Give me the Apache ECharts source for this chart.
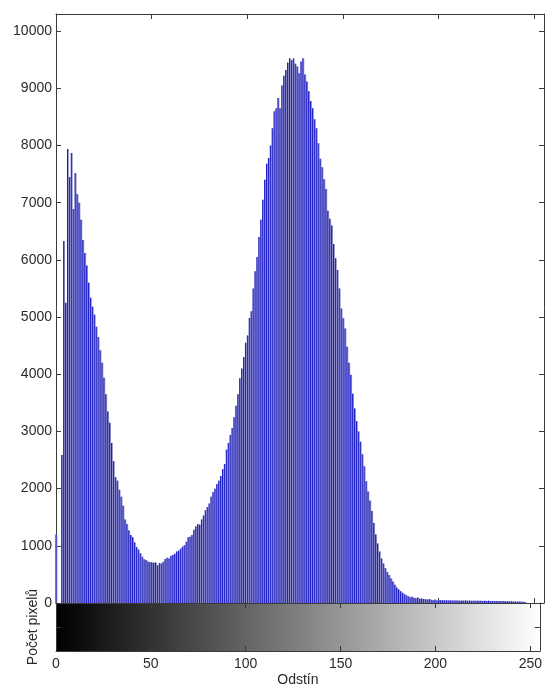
<!DOCTYPE html>
<html>
<head>
<meta charset="utf-8">
<script src="https://cdn.jsdelivr.net/npm/echarts@6/dist/echarts.min.js"></script>
<style>
  html, body { margin: 0; padding: 0; background: #ffffff; }
  #chart { width: 545px; height: 688px; }
</style>
</head>
<body>
<div id="chart"></div>
<script>
// Pixel counts per grey level 0..255
const counts = [
  1200, 0, 0, 2590, 6330, 5250, 7940, 7450, 7870, 6890,
  7520, 7150, 7000, 6700, 6350, 6120, 5900, 5600, 5340, 5180,
  5040, 4830, 4650, 4420, 4200, 3940, 3650, 3350, 3150, 2800,
  2480, 2200, 2140, 1980, 1860, 1700, 1460, 1380, 1270, 1190,
  1150, 1060, 980, 935, 870, 810, 765, 750, 725, 712,
  712, 702, 708, 660, 700, 690, 720, 770, 790, 780,
  825, 840, 860, 900, 915, 950, 985, 1010, 1070, 1150,
  1160, 1190, 1280, 1340, 1380, 1370, 1460, 1530, 1620, 1680,
  1740, 1860, 1940, 2000, 2080, 2140, 2220, 2340, 2430, 2680,
  2800, 2940, 3060, 3250, 3450, 3650, 3930, 4100, 4300, 4550,
  4680, 4985, 5100, 5500, 5800, 6050, 6400, 6700, 7050, 7400,
  7680, 7780, 8000, 8300, 8600, 8650, 8830, 8650, 9050, 9220,
  9320, 9450, 9525, 9490, 9520, 9430, 9380, 9265, 9470, 9525,
  9240, 9120, 8950, 8780, 8650, 8460, 8300, 8040, 7770, 7620,
  7410, 7240, 6860, 6720, 6600, 6280, 6030, 5825, 5500, 5150,
  4980, 4800, 4480, 4200, 3990, 3660, 3400, 3180, 3000, 2820,
  2600, 2390, 2130, 1950, 1790, 1610, 1400, 1200, 1040, 900,
  780, 690, 610, 540, 490, 430, 375, 320, 270, 235,
  205, 180, 155, 135, 120, 100, 110, 90, 85, 95,
  75, 80, 70, 65, 60, 70, 55, 50, 60, 45,
  52, 48, 50, 45, 48, 44, 46, 42, 45, 43,
  44, 40, 43, 41, 44, 40, 42, 38, 41, 39,
  40, 38, 41, 37, 39, 36, 38, 35, 37, 34,
  36, 33, 35, 31, 33, 30, 32, 28, 30, 26,
  28, 24, 26, 22, 20, 18, 0, 0, 0, 0,
  0, 0, 0, 0, 0, 0
];

const xTicks = [0, 50, 100, 150, 200, 250];
const yTicks = [0, 1000, 2000, 3000, 4000, 5000, 6000, 7000, 8000, 9000, 10000];
const xName = 'Odstín';
const yName = 'Počet pixelů';

const X_MAX = 255;
const Y_MAX = 10300;

const FONT = 'Liberation Sans, Arial, Helvetica, sans-serif';
const INK = '#2a2a2a';
const LINE = '#3a3a3a';

const histData = counts.map((c, i) => [i, c]);

const boxLine = { show: true, onZero: false, lineStyle: { color: LINE, width: 1 } };
const inTick = { show: true, inside: true, length: 5, lineStyle: { color: LINE, width: 1 } };

function xAx(gridIndex, position, withLabels) {
  return {
    type: 'value', gridIndex, position,
    min: 0, max: X_MAX, interval: xTicks[1] - xTicks[0],
    axisLine: boxLine, axisTick: inTick, splitLine: { show: false },
    axisLabel: withLabels ? {
      show: true, margin: 6, color: INK, fontSize: 14, fontFamily: FONT,
      formatter: v => (xTicks.indexOf(v) >= 0 ? String(v) : '')
    } : { show: false }
  };
}

function yAx(gridIndex, position, max, interval, withLabels) {
  return {
    type: 'value', gridIndex, position,
    min: 0, max, interval,
    axisLine: boxLine, axisTick: inTick, splitLine: { show: false },
    axisLabel: withLabels ? {
      show: true, margin: 4, color: INK, fontSize: 14, fontFamily: FONT,
      formatter: v => (yTicks.indexOf(v) >= 0 ? String(v) : '')
    } : { show: false }
  };
}

const chart = echarts.init(document.getElementById('chart'), null, { renderer: 'canvas' });

chart.setOption({
  animation: false,
  backgroundColor: '#ffffff',
  grid: [
    { left: 56, top: 14, width: 488, height: 589, show: false },
    {
      left: 56, top: 603, width: 488, height: 48, show: true, borderWidth: 0,
      backgroundColor: new echarts.graphic.LinearGradient(0, 0, 1, 0, [
        { offset: 0, color: '#000000' },
        { offset: 1, color: '#ffffff' }
      ])
    }
  ],
  xAxis: [
    xAx(0, 'bottom', false),
    xAx(0, 'top', false),
    xAx(1, 'top', false),
    Object.assign(xAx(1, 'bottom', true), {
      name: xName, nameLocation: 'middle', nameGap: 22,
      nameTextStyle: { color: INK, fontSize: 14, fontFamily: FONT }
    })
  ],
  yAxis: [
    yAx(0, 'left', Y_MAX, yTicks[1] - yTicks[0], true),
    yAx(0, 'right', Y_MAX, yTicks[1] - yTicks[0], false),
    Object.assign(yAx(1, 'left', 1, 0.5, false), {
      name: yName, nameLocation: 'middle', nameGap: 16,
      nameTextStyle: { color: INK, fontSize: 14, fontFamily: FONT }
    }),
    yAx(1, 'right', 1, 0.5, false)
  ],
  series: [
    {
      name: 'stems-halo', type: 'bar', xAxisIndex: 0, yAxisIndex: 0,
      data: histData, barWidth: 1.9, barGap: '-100%',
      itemStyle: { color: '#9090c4' }, silent: true
    },
    {
      name: 'stems', type: 'bar', xAxisIndex: 0, yAxisIndex: 0,
      data: histData, barWidth: 1, barGap: '-100%',
      itemStyle: { color: '#1c1cc8' }, silent: true
    }
  ]
});
</script>
</body>
</html>
